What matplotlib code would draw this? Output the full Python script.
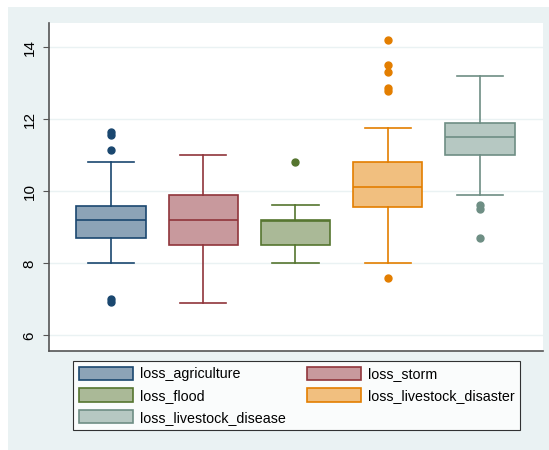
import matplotlib
matplotlib.use("Agg")
import matplotlib.pyplot as plt
from matplotlib.patches import Patch, Rectangle

plt.rcParams['font.family'] = ['Liberation Sans', 'DejaVu Sans']

# box statistics
series = ["loss_agriculture", "loss_storm", "loss_flood",
          "loss_livestock_disaster", "loss_livestock_disease"]
q1 = [8.70, 8.52, 8.52, 9.56, 11.00]
median = [9.20, 9.20, 9.17, 10.12, 11.51]
q3 = [9.60, 9.89, 9.19, 10.81, 11.91]
whis_lo = [8.00, 6.90, 8.00, 8.00, 9.90]
whis_hi = [10.81, 11.00, 9.61, 11.77, 13.19]
outliers = [
    [11.65, 11.56, 11.14, 7.02, 6.93],
    [],
    [10.81],
    [14.21, 13.52, 13.31, 12.88, 12.78, 7.60],
    [9.63, 9.52, 8.70],
]

line_colors = ["#1A476F", "#90353B", "#55752F", "#E37E00", "#6E8E84"]
fill_colors = ["#8CA3B7", "#C8999D", "#AAB997", "#F1BF7F", "#B6C8C2"]
bg = "#EAF2F3"

fig = plt.figure(figsize=(5.49, 4.5), dpi=100)
fig.patch.set_facecolor("white")
fig.patches.append(Rectangle((8 / 549, 0), 1, 1 - 7 / 450, transform=fig.transFigure,
                             facecolor=bg, edgecolor="none", zorder=-10))

ax = fig.add_axes([49 / 549, 1 - 351 / 450, 494 / 549, 328 / 450])
ax.set_facecolor("white")

for i in range(len(series)):
    stats = [{
        "med": median[i], "q1": q1[i], "q3": q3[i],
        "whislo": whis_lo[i], "whishi": whis_hi[i], "fliers": outliers[i],
    }]
    c = line_colors[i]
    ax.bxp(stats, positions=[i + 1], widths=0.75, capwidths=0.5,
           patch_artist=True, manage_ticks=False,
           boxprops=dict(facecolor=fill_colors[i], edgecolor=c, linewidth=1.2),
           medianprops=dict(color=c, linewidth=1.2),
           whiskerprops=dict(color=c, linewidth=1.2),
           capprops=dict(color=c, linewidth=1.2),
           flierprops=dict(marker="o", markerfacecolor=c, markeredgecolor=c,
                           markersize=5, linestyle="none"))

ax.set_xlim(0.328, 5.683)
ax.set_ylim(5.564, 14.675)
ax.set_yticks([6, 8, 10, 12, 14])
ax.set_xticks([])
ax.tick_params(axis="y", labelrotation=90, labelsize=11, length=4, width=0.8,
               pad=5, color="#555555")
for lab in ax.get_yticklabels():
    lab.set_va("center")
ax.yaxis.grid(True, color=bg, linewidth=1)
ax.set_axisbelow(True)
for s in ["top", "right"]:
    ax.spines[s].set_visible(False)
for s in ["left", "bottom"]:
    ax.spines[s].set_color("#555555")
    ax.spines[s].set_linewidth(1.2)

# legend, column-major so that rows read agriculture/storm, flood/disaster, disease
order = [0, 2, 4, 1, 3]
handles = [Patch(facecolor=fill_colors[i], edgecolor=line_colors[i], linewidth=1.2)
           for i in order]
labels = [series[i] for i in order]
leg = fig.legend(handles, labels, ncol=2, loc="upper left",
                 bbox_to_anchor=(73 / 549, 1 - 361 / 450),
                 fontsize=10.3, frameon=True, fancybox=False, edgecolor="black",
                 handlelength=3.8, handleheight=1.05, handletextpad=0.45,
                 labelspacing=0.5, columnspacing=1.5, borderpad=0.4,
                 borderaxespad=0)
leg.get_frame().set_linewidth(0.8)

fig.savefig("out.png", dpi=100, facecolor=fig.get_facecolor())
